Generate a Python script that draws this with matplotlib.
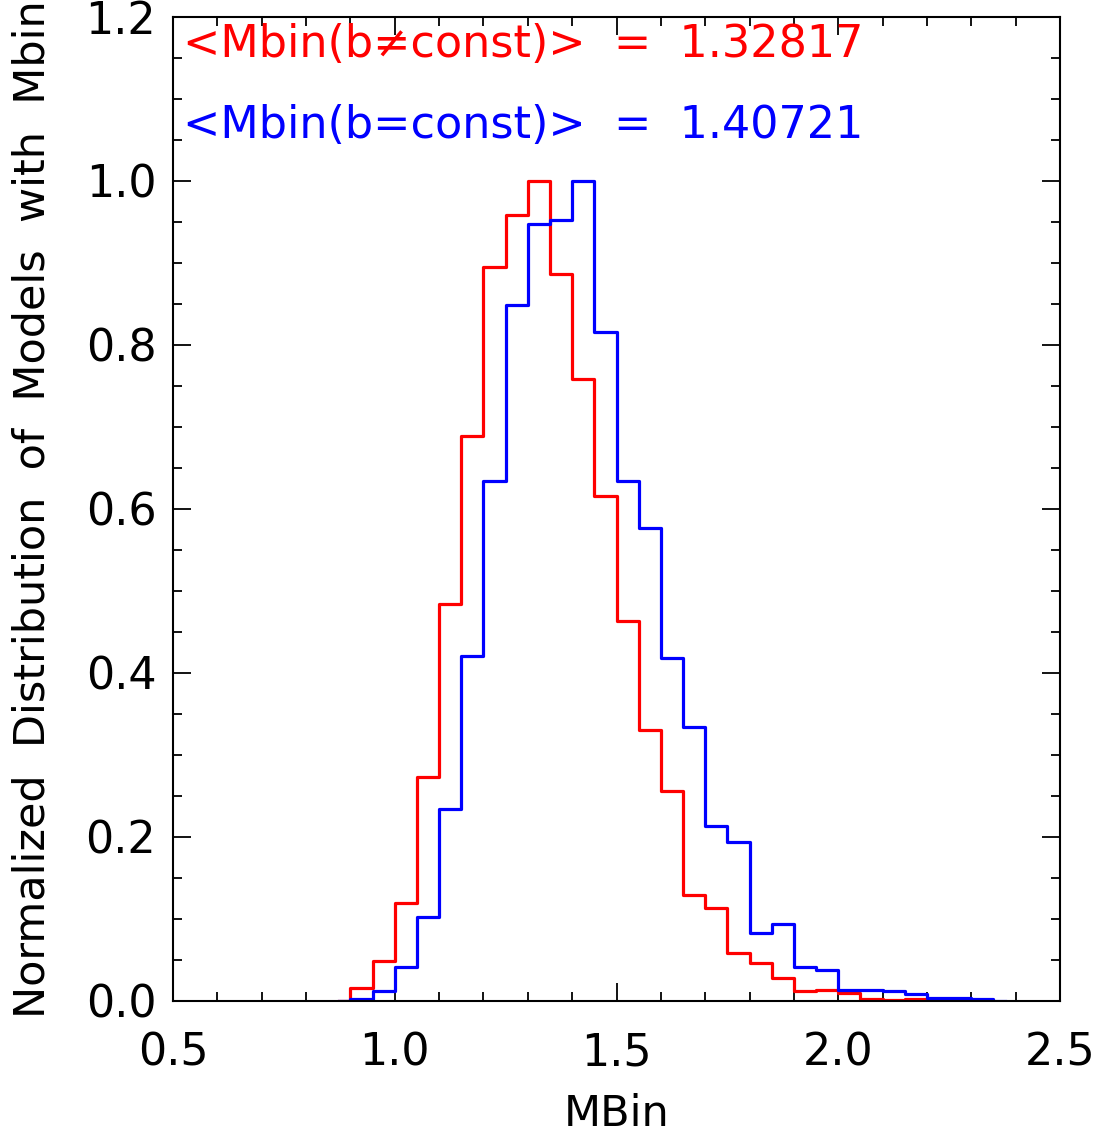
import matplotlib
matplotlib.use('Agg')
import matplotlib.pyplot as plt
import numpy as np
from matplotlib.ticker import MultipleLocator, FormatStrFormatter

# histogram bin centres (bin width 0.05)
red_centers = np.arange(0.875, 2.276, 0.05)
red_vals = [0.0, 0.016, 0.049, 0.120, 0.273, 0.484, 0.689, 0.895, 0.958, 1.000,
            0.887, 0.759, 0.616, 0.463, 0.330, 0.256, 0.129, 0.113, 0.059, 0.046,
            0.028, 0.012, 0.013, 0.010, 0.002, 0.001, 0.002, 0.002, 0.001]

blue_centers = np.arange(0.875, 2.376, 0.05)
blue_vals = [0.0, 0.003, 0.012, 0.042, 0.102, 0.234, 0.421, 0.634, 0.849, 0.948,
             0.952, 1.000, 0.816, 0.634, 0.577, 0.418, 0.334, 0.213, 0.194, 0.083,
             0.094, 0.041, 0.038, 0.014, 0.014, 0.012, 0.0085, 0.0033, 0.0033, 0.002,
             0.0]

red_label = '<Mbin(b\u2260const)>  =  1.32817'
blue_label = '<Mbin(b=const)>  =  1.40721'


def main():
    fig = plt.figure(figsize=(11.04, 11.34), dpi=100)
    ax = fig.add_axes([173 / 1104, 1 - 1001 / 1134, 887 / 1104, 984 / 1134])

    ax.step(red_centers, red_vals, where='mid', color='red', lw=2.3)
    ax.step(blue_centers, blue_vals, where='mid', color='blue', lw=2.3)

    ax.set_xlim(0.5, 2.5)
    ax.set_ylim(0.0, 1.2)
    ax.xaxis.set_major_locator(MultipleLocator(0.5))
    ax.xaxis.set_minor_locator(MultipleLocator(0.1))
    ax.yaxis.set_major_locator(MultipleLocator(0.2))
    ax.yaxis.set_minor_locator(MultipleLocator(0.05))
    ax.xaxis.set_major_formatter(FormatStrFormatter('%.1f'))
    ax.yaxis.set_major_formatter(FormatStrFormatter('%.1f'))
    ax.tick_params(which='both', direction='in', top=True, right=True, width=1.3)
    ax.tick_params(which='major', length=13, labelsize=32)
    ax.tick_params(axis='x', which='major', pad=22)
    ax.tick_params(axis='y', which='major', pad=12)
    ax.tick_params(which='minor', length=6.5)
    for s in ax.spines.values():
        s.set_linewidth(1.5)

    ax.set_xlabel('MBin', fontsize=31, labelpad=13)
    ax.set_ylabel('Normalized  Distribution  of  Models  with  Mbin', fontsize=31, labelpad=23)

    ax.text(0.522, 1.1516, red_label, color='red', fontsize=32, va='baseline')
    ax.text(0.522, 1.052, blue_label, color='blue', fontsize=32, va='baseline')

    fig.savefig('out.png', dpi=100)


if __name__ == "__main__":
    main()
